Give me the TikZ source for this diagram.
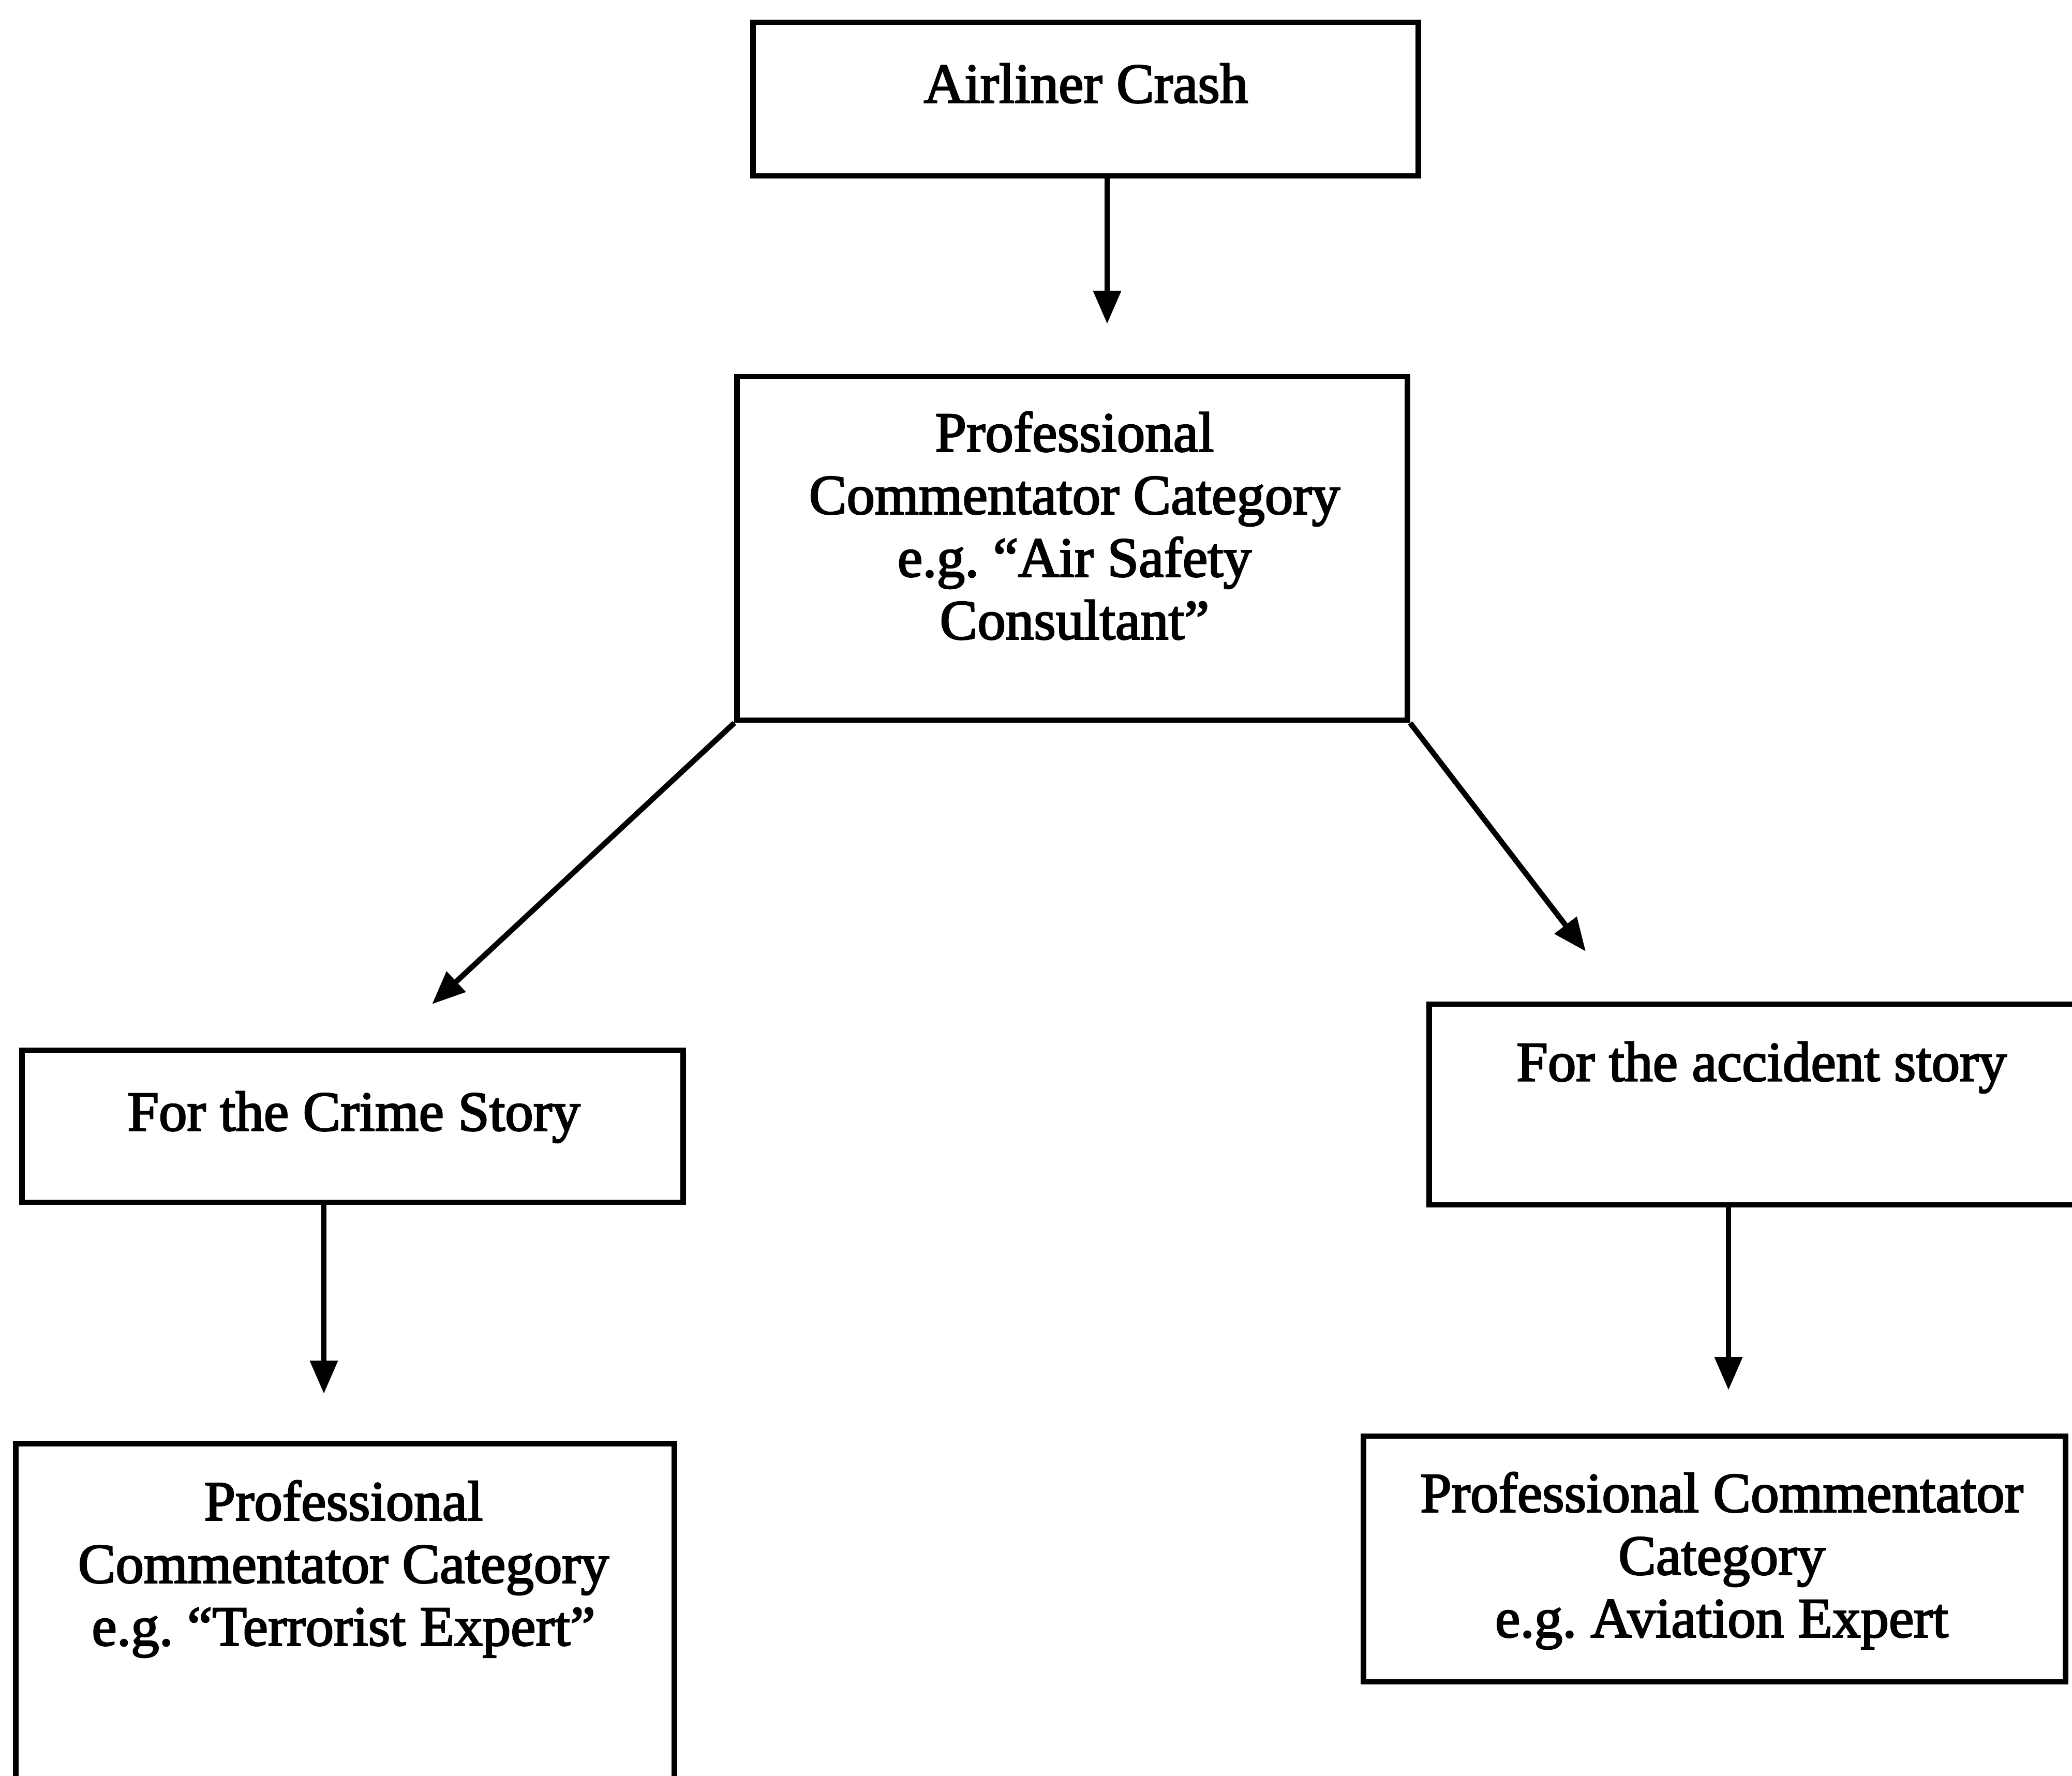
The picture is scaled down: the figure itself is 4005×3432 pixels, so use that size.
\documentclass[tikz,border=0pt]{standalone}
\usepackage{fontspec}
\setmainfont{Liberation Serif}[BoldFont={Liberation Serif},BoldFeatures={FakeBold=2.5}]
\usetikzlibrary{arrows.meta}
\begin{document}
\frenchspacing
\begin{tikzpicture}[x=0.01cm,y=-0.01cm,
  box/.style={draw=black,line width=3pt,inner sep=0pt,fill=none},
  txt/.style={anchor=north,inner sep=0pt,align=center,font=\frenchspacing\bfseries\fontsize{31}{34.4}\selectfont},
  conn/.style={line width=3pt,-{Triangle[length=0.64cm,width=0.52cm]}}]
\useasboundingbox (0,0) rectangle (4005,3432);
\fill[white] (0,0) rectangle (4005,3432);
\clip (0,0) rectangle (4005,3432);
% boxes
\node[box,minimum width=12.85cm,minimum height=2.97cm] (crash) at (2098.5,191.5) {};
\node[box,minimum width=12.95cm,minimum height=6.64cm] (prof) at (2072.5,1060) {};
\node[box,minimum width=12.77cm,minimum height=2.94cm] (crime) at (681.5,2177) {};
\node[box,minimum width=13.37cm,minimum height=3.88cm] (accid) at (3431.5,2135) {};
\node[box,minimum width=12.72cm,minimum height=7.59cm] (terr) at (667,3170) {};
\node[box,minimum width=13.56cm,minimum height=4.75cm] (avia) at (3314,3013.5) {};
% texts
\node[txt] (tcrash) at (2099,122) {Airliner Crash};
\node[txt] (tprof) at (2077,795) {Professional\\Commentator Category\\e.g. “Air Safety\\Consultant”};
\node[txt] (tcrime) at (684,2109) {For the Crime Story};
\node[txt] (taccid) at (3405,2013) {For the accident story};
\node[txt] (tterr) at (664,2861) {Professional\\Commentator Category\\e.g. “Terrorist Expert”};
\node[txt] (tavia) at (3328,2845) {Professional Commentator\\Category\\e.g. Aviation Expert};
% connector ends
\coordinate (e1) at (2140,626);
\coordinate (e2) at (835,1941);
\coordinate (e3) at (3065,1839);
\coordinate (e4) at (626,2694);
\coordinate (e5) at (3341,2687);
\draw[conn] (e1 |- crash.south) -- (e1);
\draw[conn] (prof.south west) -- (e2);
\draw[conn] (prof.south east) -- (e3);
\draw[conn] (e4 |- crime.south) -- (e4);
\draw[conn] (e5 |- accid.south) -- (e5);
\end{tikzpicture}
\end{document}
